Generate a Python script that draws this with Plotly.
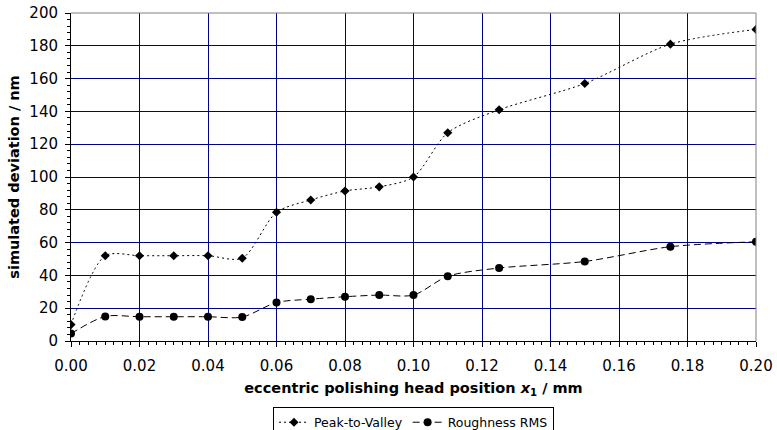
import plotly.graph_objects as go

x_pos = [0.00, 0.01, 0.02, 0.03, 0.04, 0.05, 0.06, 0.07, 0.08, 0.09, 0.10, 0.11, 0.125, 0.15, 0.175, 0.20]
ptv = [10, 52, 52, 52, 52, 50.5, 78.5, 86, 91.5, 94, 100, 127, 141, 157, 181, 190]
rms = [4.5, 15, 14.8, 14.8, 14.8, 14.6, 23.5, 25.5, 27, 28, 28, 39.5, 44.5, 48.5, 57.5, 60.5]

font_family = "DejaVu Sans, Verdana, sans-serif"
grid_col = "#000088"

fig = go.Figure()
fig.add_trace(go.Scatter(
    x=x_pos, y=ptv, name="Peak-to-Valley", mode="lines+markers",
    line=dict(color="black", width=1, dash="2px,3px", shape="spline", smoothing=0.8),
    marker=dict(symbol="diamond", size=7, color="black"),
))
fig.add_trace(go.Scatter(
    x=x_pos, y=rms, name="Roughness RMS", mode="lines+markers",
    line=dict(color="black", width=1, dash="7px,4px", shape="spline", smoothing=0.8),
    marker=dict(symbol="circle", size=8, color="black"),
))

fig.update_layout(
    width=777, height=430,
    margin=dict(l=71, r=21, t=13, b=89, autoexpand=False),
    paper_bgcolor="white", plot_bgcolor="white",
    font=dict(family=font_family, size=14, color="black"),
    showlegend=True,
    legend=dict(
        orientation="h", x=0.5, xanchor="center", y=-0.2, yanchor="top",
        bordercolor="black", borderwidth=1, font=dict(size=12.5),
        tracegroupgap=0,
    ),
    xaxis=dict(
        range=[0, 0.2], dtick=0.02, tick0=0, tickformat=".2f",
        showgrid=True, gridcolor=grid_col, gridwidth=1,
        showline=True, linecolor="black", linewidth=1, mirror=False,
        ticks="outside", ticklen=5, tickcolor="black",
        minor=dict(dtick=0.0025, ticks="outside", ticklen=3, tickcolor="black", showgrid=False),
        zeroline=False, automargin=False, ticklabelstandoff=6,
        title=dict(text="<b>eccentric polishing head position <i>x</i><sub>1</sub> / mm</b>",
                   font=dict(size=14.5), standoff=8),
        tickfont=dict(size=15),
    ),
    yaxis=dict(
        range=[0, 200], dtick=20, tick0=0,
        showgrid=True, gridcolor=grid_col, gridwidth=1,
        showline=True, linecolor="black", linewidth=1,
        ticks="outside", ticklen=5, tickcolor="black",
        minor=dict(dtick=4, ticks="outside", ticklen=3, tickcolor="black", showgrid=False),
        zeroline=False, automargin=False, ticklabelstandoff=4,
        title=dict(text="<b>simulated deviation / nm</b>", font=dict(size=14.5), standoff=6),
        tickfont=dict(size=15),
    ),
)

# gray border on top and right of plot area
fig.add_shape(type="line", xref="paper", yref="paper", x0=0, x1=1, y0=1, y1=1,
              line=dict(color="#808080", width=1))
fig.add_shape(type="line", xref="paper", yref="paper", x0=1, x1=1, y0=0, y1=1,
              line=dict(color="#808080", width=1))

fig.write_html(
    "out.html",
    config={"displayModeBar": False},
    post_script="document.body.style.margin='0';document.body.style.overflow='hidden';",
)
